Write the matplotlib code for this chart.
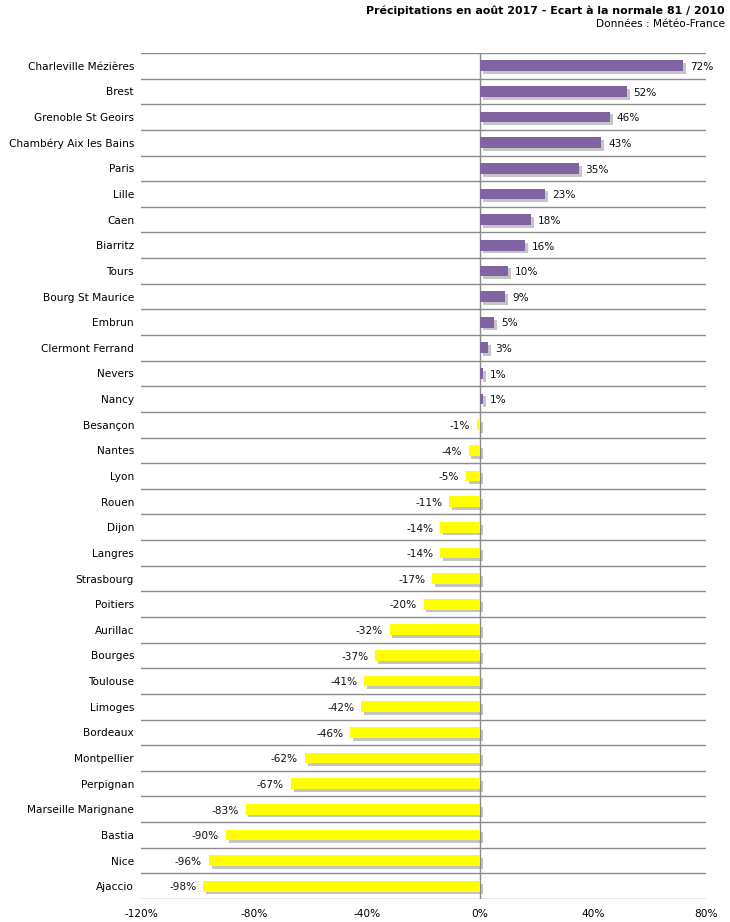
import matplotlib
matplotlib.use('Agg')
import matplotlib.pyplot as plt
import matplotlib.patheffects as pe
import numpy as np

# données
villes = ['Charleville Mézières', 'Brest', 'Grenoble St Geoirs', 'Chambéry Aix les Bains',
          'Paris', 'Lille', 'Caen', 'Biarritz', 'Tours', 'Bourg St Maurice', 'Embrun',
          'Clermont Ferrand', 'Nevers', 'Nancy', 'Besançon', 'Nantes', 'Lyon', 'Rouen',
          'Dijon', 'Langres', 'Strasbourg', 'Poitiers', 'Aurillac', 'Bourges', 'Toulouse',
          'Limoges', 'Bordeaux', 'Montpellier', 'Perpignan', 'Marseille Marignane',
          'Bastia', 'Nice', 'Ajaccio']
ecarts = [72, 52, 46, 43, 35, 23, 18, 16, 10, 9, 5, 3, 1, 1,
          -1, -4, -5, -11, -14, -14, -17, -20, -32, -37, -41, -42, -46, -62, -67,
          -83, -90, -96, -98]
xticks = [-120, -80, -40, 0, 40, 80]

violet = '#8064A2'
jaune = '#FFFF00'

fig = plt.figure(figsize=(7.3, 9.22), dpi=100)
ax = fig.add_axes([141/730, 1 - 899/922, (706-141)/730, (899-53)/922])

n = len(villes)
y = np.arange(n)
couleurs = [violet if v > 0 else jaune for v in ecarts]
bars = ax.barh(y, ecarts, height=0.42, color=couleurs, zorder=3)
for b in bars:
    b.set_path_effects([pe.SimplePatchShadow(offset=(2.0, -2.0), shadow_rgbFace='#808080', alpha=0.45),
                        pe.Normal()])

# étiquettes de valeurs
for yi, v in zip(y, ecarts):
    if v > 0:
        ax.text(v + 2.4, yi + 0.05, f'{v}%', ha='left', va='center', fontsize=7.6, color='#111111')
    else:
        ax.text(v - 2.4, yi + 0.05, f'{v}%', ha='right', va='center', fontsize=7.6, color='#111111')

ax.set_xlim(-120, 80)
ax.set_ylim(n - 0.5, -0.5)

# lignes horizontales entre les lignes
for k in range(n + 1):
    ax.axhline(k - 0.5, color='#8c8c8c', lw=1, zorder=1)
ax.axvline(0, color='#8c8c8c', lw=1, zorder=2)

ax.set_yticks(y)
ax.set_yticklabels(villes, fontsize=7.6)
ax.set_xticks(xticks)
ax.set_xticklabels([f'{t}%' for t in xticks], fontsize=7.6)
ax.tick_params(length=0)
ax.tick_params(axis='y', pad=5)
ax.tick_params(axis='x', pad=7)
for s in ax.spines.values():
    s.set_visible(False)

fig.text(725/730, 1 - 11/922, 'Précipitations en août 2017 - Ecart à la normale 81 / 2010',
         ha='right', va='center', fontsize=7.9, fontweight='bold')
fig.text(725/730, 1 - 24/922, 'Données : Météo-France', ha='right', va='center', fontsize=7.6)

fig.savefig('out.png', dpi=100)
